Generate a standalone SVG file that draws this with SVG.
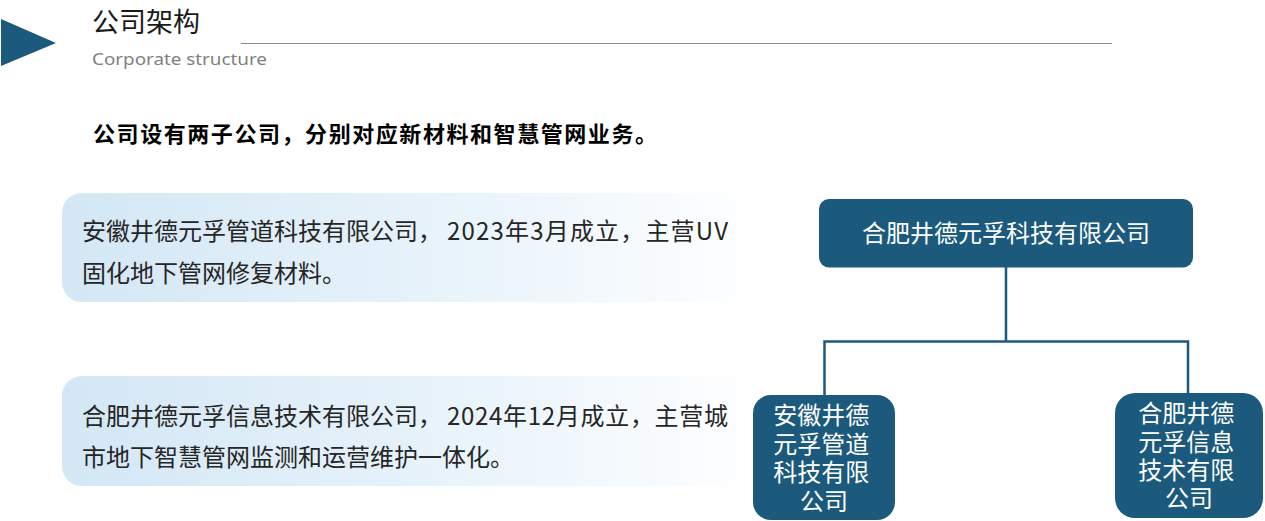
<svg xmlns="http://www.w3.org/2000/svg" width="1265" height="521" viewBox="0 0 1265 521">
  <defs>
    <linearGradient id="cardGrad" x1="0" y1="0" x2="1" y2="0">
      <stop offset="0" stop-color="#d3e7f5"/>
      <stop offset="0.6" stop-color="#eaf4fb"/>
      <stop offset="1" stop-color="#ffffff"/>
    </linearGradient>
    <style>
      .cjk { font-family: "Noto Sans CJK SC", "Noto Sans", sans-serif; }
      .body { font-size: 24px; fill: #262626; }
      .node { fill: #1b5a7c; }
      .nodeText { font-size: 24px; fill: #ffffff; text-anchor: middle; }
      .conn { stroke: #1b5a7c; stroke-width: 2.5; fill: none; }
    </style>
  </defs>
  <rect width="1265" height="521" fill="#ffffff"/>

  <g id="header">
    <polygon points="1,19 56,43 1,66" fill="#1b5a7c"/>
    <text x="92" y="32" class="cjk" font-size="27" fill="#1a1a1a">公司架构</text>
    <text x="92" y="65" font-family="'Noto Sans', 'Open Sans', sans-serif" font-size="17" fill="#808080" textLength="175" lengthAdjust="spacingAndGlyphs">Corporate structure</text>
    <line x1="241" y1="43.5" x2="1112" y2="43.5" stroke="#8a8a8a" stroke-width="1"/>
  </g>

  <g id="summary">
    <text x="93" y="142" class="cjk" font-size="22" font-weight="bold" fill="#000000" textLength="564" lengthAdjust="spacing">公司设有两子公司，分别对应新材料和智慧管网业务。</text>
  </g>

  <g id="card1">
    <rect x="62" y="193" width="698" height="109" rx="20" fill="url(#cardGrad)"/>
    <text y="240" class="cjk body"><tspan x="82">安徽井德元孚管道科技有限公司，</tspan><tspan x="447" textLength="281" lengthAdjust="spacing">2023年3月成立，主营UV</tspan></text>
    <text x="82" y="282" class="cjk body">固化地下管网修复材料。</text>
  </g>

  <g id="card2">
    <rect x="62" y="376" width="698" height="110" rx="20" fill="url(#cardGrad)"/>
    <text y="425" class="cjk body"><tspan x="82">合肥井德元孚信息技术有限公司，</tspan><tspan x="447" textLength="281" lengthAdjust="spacing">2024年12月成立，主营城</tspan></text>
    <text x="82" y="466" class="cjk body">市地下智慧管网监测和运营维护一体化。</text>
  </g>

  <g id="connectors">
    <polyline class="conn" points="1006,267 1006,341.5"/>
    <polyline class="conn" points="824.5,396 824.5,341.5 1188,341.5 1188,394"/>
  </g>

  <g id="node-parent">
    <rect class="node" x="819" y="199" width="374" height="68.5" rx="10"/>
    <text x="1006" y="242" class="cjk nodeText">合肥井德元孚科技有限公司</text>
  </g>

  <g id="node-anhui">
    <rect class="node" x="753" y="395" width="142" height="125" rx="18"/>
    <text class="cjk nodeText">
      <tspan x="824" y="424">安徽井德</tspan>
      <tspan x="824" y="452.5">元孚管道</tspan>
      <tspan x="824" y="481">科技有限</tspan>
      <tspan x="824" y="509.5">公司</tspan>
    </text>
  </g>

  <g id="node-hefei">
    <rect class="node" x="1115" y="393" width="148" height="125" rx="20"/>
    <text class="cjk nodeText">
      <tspan x="1189" y="421.5">合肥井德</tspan>
      <tspan x="1189" y="451">元孚信息</tspan>
      <tspan x="1189" y="479">技术有限</tspan>
      <tspan x="1189" y="507">公司</tspan>
    </text>
  </g>
</svg>
